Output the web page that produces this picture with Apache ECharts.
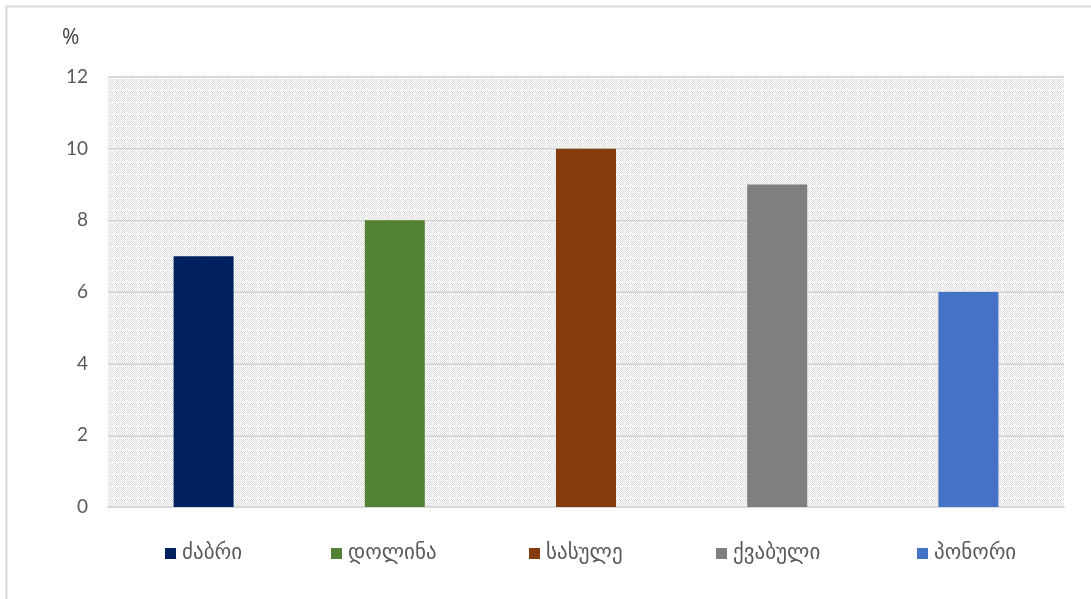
<!DOCTYPE html>
<html>
<head>
<meta charset="utf-8">
<script src="https://cdn.jsdelivr.net/npm/echarts@6/dist/echarts.min.js"></script>
<style>
  html, body { margin: 0; padding: 0; background: #fff; }
  #chart { width: 1091px; height: 599px; }
</style>
</head>
<body>
<div id="chart"></div>
<script>
// Karst landform shares, percent
const categories = ['ძაბრი', 'დოლინა', 'სასულე', 'ქვაბული', 'პონორი'];
const values = [7, 8, 10, 9, 6];
const colors = ['#002060', '#548235', '#843C0C', '#7F7F7F', '#4472C4'];
const yTicks = { min: 0, max: 12, interval: 2 };
const unitLabel = '%';

// Legend entry left offsets (px)
const legendLefts = [165, 331, 529, 716, 917];

// Small repeating lattice texture for the plot background
function latticeTile() {
  const c = document.createElement('canvas');
  const s = 12;
  c.width = s; c.height = s;
  const ctx = c.getContext('2d');
  ctx.fillStyle = '#ffffff';
  ctx.fillRect(0, 0, s, s);
  ctx.fillStyle = '#d8d8d8';
  for (let y = 0; y < s; y++) {
    for (let x = 0; x < s; x++) {
      const onLine = (x % 6 === 0) || (y % 6 === 0);
      if (onLine) continue;
      if ((x + y) % 2 === 0) ctx.fillRect(x, y, 1, 1);
    }
  }
  ctx.fillStyle = '#e2e2e2';
  for (let i = 0; i < s; i += 2) {
    ctx.fillRect(i, 0, 1, 1);
    ctx.fillRect(0, i, 1, 1);
  }
  return c;
}

const labelFont = "Lato, 'DejaVu Sans', sans-serif";
const legendFont = "'DejaVu Sans', sans-serif";

const series = categories.map((name, i) => ({
  name: name,
  type: 'bar',
  stack: 'all',
  barWidth: 60,
  itemStyle: { color: colors[i] },
  data: categories.map((_, j) => (j === i ? values[i] : null))
}));

const legends = categories.map((name, i) => ({
  left: legendLefts[i],
  top: 543,
  icon: 'rect',
  itemWidth: 11,
  itemHeight: 11,
  itemGap: 0,
  padding: 0,
  textStyle: { fontFamily: legendFont, fontSize: 21, color: '#595959', padding: [0, 0, 0, 1] },
  data: [name]
}));

const chart = echarts.init(document.getElementById('chart'), null, { renderer: 'canvas' });
chart.setOption({
  animation: false,
  backgroundColor: '#ffffff',
  graphic: [{
    type: 'rect',
    shape: { x: 6.5, y: 6.5, width: 1200, height: 700 },
    style: { fill: null, stroke: '#d9d9d9', lineWidth: 2 },
    silent: true,
    z: -1
  }, {
    type: 'text',
    left: 62,
    top: 28,
    silent: true,
    style: {
      text: unitLabel,
      fontFamily: "'Open Sans', sans-serif",
      fontSize: 21,
      fontWeight: 'normal',
      fill: '#404040'
    }
  }],
  grid: {
    left: 108,
    right: 27,
    top: 77,
    bottom: 92,
    show: true,
    borderWidth: 0,
    backgroundColor: { image: latticeTile(), repeat: 'repeat' }
  },
  xAxis: {
    type: 'category',
    data: categories,
    axisLine: { show: true, lineStyle: { color: '#d9d9d9', width: 2 } },
    axisTick: { show: false },
    axisLabel: { show: false }
  },
  yAxis: {
    type: 'value',
    min: yTicks.min,
    max: yTicks.max,
    interval: yTicks.interval,
    axisLine: { show: false },
    axisTick: { show: false },
    axisLabel: { fontFamily: labelFont, fontSize: 19, color: '#595959', margin: 20 },
    splitLine: { lineStyle: { color: '#d9d9d9', width: 2 } }
  },
  legend: legends,
  series: series
});
</script>
</body>
</html>
